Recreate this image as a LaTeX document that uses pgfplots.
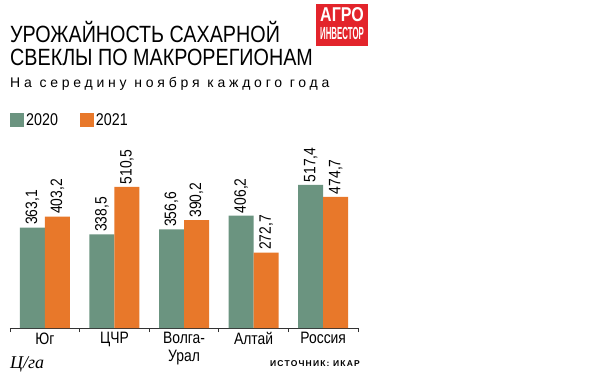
\documentclass[border=0pt]{standalone}
\usepackage{fontspec}
\setmainfont{Liberation Sans}
\newfontfamily\narrow{Liberation Sans}[FakeStretch=0.84]
\newfontfamily\spaced{Liberation Sans}[LetterSpace=27]
\newfontfamily\srcfont{Liberation Sans}[LetterSpace=14]
\newfontfamily\serifit{Liberation Serif}
\usepackage{pgfplots}
\pgfplotsset{compat=1.18}
\definecolor{cg}{HTML}{6B9480}
\definecolor{co}{HTML}{E8782A}
\definecolor{logored}{HTML}{E3242B}
\begin{document}
\begin{tikzpicture}[x=1pt,y=1pt]
\useasboundingbox (0,0) rectangle (600,376);
\fill[white] (0,0) rectangle (600,376);
% titles
\node[anchor=base west, inner sep=0pt, font=\narrow\fontsize{23.5}{26}\selectfont] at (10,334) {УРОЖАЙНОСТЬ САХАРНОЙ};
\node[anchor=base west, inner sep=0pt, font=\narrow\fontsize{23.5}{26}\selectfont] at (10,311) {СВЕКЛЫ ПО МАКРОРЕГИОНАМ};
\node[anchor=base west, inner sep=0pt, font=\spaced\fontsize{14}{15}\selectfont] at (10,289) {На середину ноября каждого года};
% logo
\fill[logored] (316,330) rectangle (368,372);
\node[anchor=base, inner sep=0pt, text height=13pt, text depth=0pt, text=white, font=\bfseries\fontsize{20}{20}\selectfont] at (342,355) {\scalebox{0.8}[1]{АГРО}};
\node[anchor=base, inner sep=0pt, text height=12pt, text depth=0pt, text=white, font=\bfseries\fontsize{17.5}{18}\selectfont] at (342,336.5) {\scalebox{0.45}[1]{ИНВЕСТОР}};
\begin{axis}[
  at={(10pt,48pt)}, anchor=south west,
  scale only axis, width=348pt, height=188pt,
  ybar=0pt, bar width=25pt,
  xmin=-0.5, xmax=4.5, ymin=0, ymax=680,
  axis x line*=bottom, axis y line=none,
  axis line style={black!80, line width=0.8pt, -},
  xtick={0,...,4},
  xticklabels={Юг, ЦЧР, {Волга-\\Урал}, Алтай, Россия},
  major tick length=0pt,
  minor xtick={-0.5,0.5,...,4.5},
  minor tick length=4pt,
  xtick align=outside,
  minor tick style={black!80, line width=0.8pt},
  xticklabel style={align=center, font=\narrow\fontsize{16.5}{18}\selectfont, yshift=-1pt},
  nodes near coords,
  /pgf/number format/.cd, use comma, fixed, fixed zerofill, precision=1, assume math mode=true,
  /pgfplots/.cd,
  every node near coord/.append style={rotate=90, anchor=west, inner sep=2.5pt, black, font=\narrow\fontsize{16.5}{18}\selectfont},
  legend columns=2,
  legend style={at={(0,1.106)}, anchor=west, draw=none, fill=none, inner sep=0pt,
    font=\narrow\fontsize{17}{18}\selectfont,
    /tikz/every even column/.append style={column sep=20pt}},
]
\addplot[draw=none, fill=cg, legend image code/.code={\fill[cg] (0pt,-7pt) rectangle (14pt,7pt);}]
  coordinates {(0,363.1) (1,338.5) (2,356.6) (3,406.2) (4,517.4)};
\addplot[draw=none, fill=co, legend image code/.code={\fill[co] (0pt,-7pt) rectangle (14pt,7pt);}]
  coordinates {(0,403.2) (1,510.5) (2,390.2) (3,272.7) (4,474.7)};
\legend{2020, 2021}
\end{axis}
% footer
\node[anchor=base west, inner sep=0pt, font=\serifit\itshape\fontsize{18}{20}\selectfont] at (10,8) {Ц/га};
\node[anchor=base east, inner sep=0pt, font=\srcfont\bfseries\fontsize{8.5}{10}\selectfont] at (360,10) {ИСТОЧНИК: ИКАР};
\end{tikzpicture}
\end{document}
